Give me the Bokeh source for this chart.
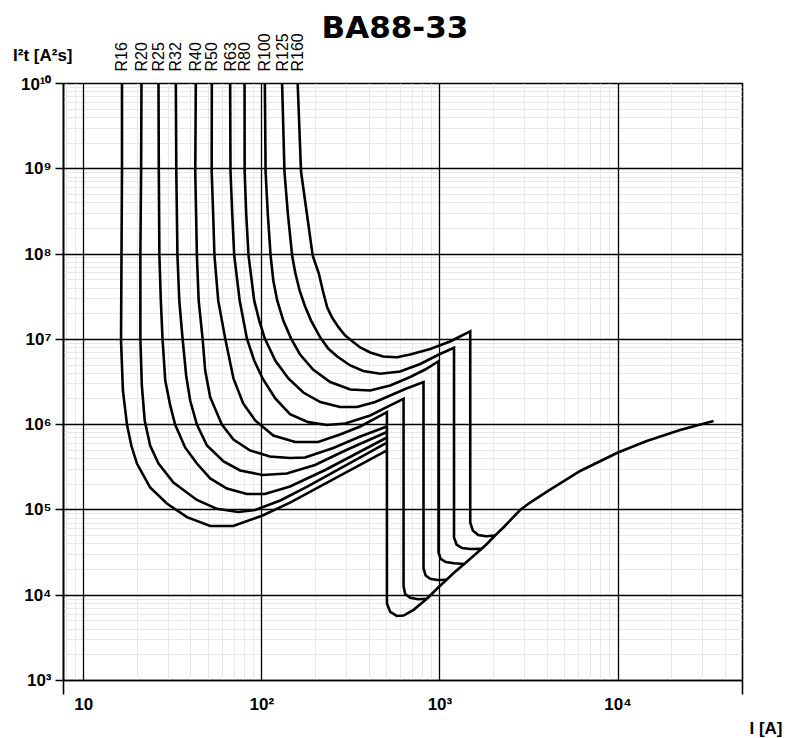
from bokeh.plotting import figure
from bokeh.layouts import column
from bokeh.models import (Range1d, FixedTicker, LogAxis, Label, Grid, Title, CustomJSTickFormatter)
from bokeh.embed import file_html
from bokeh.resources import INLINE
from bokeh.core.properties import value

# ---- data: current I [A] and let-through I2t [A2s] ----
r16_I = [16.4, 16.4, 16.3, 16.2, 16.6, 17.5, 18.5, 19.9, 23.6, 29.3, 38, 51.3, 69.1, 101, 144, 504]
r16_V = [1e10, 9.29e8, 9.62e7, 9.7e6, 2.51e6, 1e6, 5.69e5, 3.5e5, 1.83e5, 1.19e5, 8.22e4, 6.48e4, 6.48e4, 8.6e4, 1.22e5, 4.98e5]

r20_I = [21.1, 21, 20.8, 20.8, 21.2, 22, 23.6, 26.3, 31.9, 43.2, 56, 73.7, 91.8, 127, 180, 504]
r20_V = [1e10, 9.29e8, 9.62e7, 1.02e7, 2.88e6, 1.12e6, 5.69e5, 3.5e5, 2.1e5, 1.31e5, 1.03e5, 9.46e4, 9.98e4, 1.29e5, 1.88e5, 6.17e5]

r25_I = [26.3, 26.4, 26.6, 27.1, 27.7, 28.7, 30.6, 32.6, 37.1, 43.2, 51.3, 63.7, 82.5, 104, 144, 227, 504]
r25_V = [1e10, 9.29e8, 9.62e7, 2.86e7, 1.02e7, 3.29e6, 1.68e6, 1e6, 5.4e5, 3.5e5, 2.34e5, 1.78e5, 1.54e5, 1.54e5, 1.88e5, 2.94e5, 7.07e5]

r32_I = [32.9, 33.1, 33.6, 34.4, 35.9, 37.6, 39.6, 43.2, 49.2, 61, 75.6, 101, 138, 199, 294, 504]
r32_V = [1e10, 9.29e8, 9.62e7, 2.86e7, 1.02e7, 3.77e6, 1.92e6, 1e6, 5.69e5, 3.7e5, 2.9e5, 2.57e5, 2.67e5, 3.36e5, 4.98e5, 8.2e5]

r40_I = [42.6, 42.3, 43.2, 44.2, 46.5, 48.1, 51.3, 59.7, 69.3, 86.1, 111, 144, 175, 252, 357, 504]
r40_V = [1e10, 9.29e8, 9.62e7, 2.86e7, 1.02e7, 4.31e6, 2.1e6, 1e6, 6.69e5, 4.98e5, 4.23e5, 4.06e5, 4.12e5, 5.32e5, 7.26e5, 9.51e5]

r50_I = [52.4, 52.3, 53.3, 54.2, 56.9, 62.3, 69.3, 78.6, 91.8, 116, 154, 207, 275, 357, 504, 504, 526, 573, 625, 711, 845]
r50_V = [1e10, 9.29e8, 2.99e8, 9.62e7, 2.86e7, 1.02e7, 3.48e6, 1.77e6, 1.12e6, 7.46e5, 6.26e5, 6.26e5, 7.66e5, 9.51e5, 1.4e6, 8e3, 6.36e3, 5.71e3, 5.78e3, 6.74e3, 9.08e3]

r63_I = [66.4, 66.7, 68.2, 70, 75.1, 82.5, 90.6, 101, 119, 144, 182, 232, 294, 406, 526, 625, 625, 638, 681, 755, 845]
r63_V = [1e10, 9.29e8, 2.99e8, 9.62e7, 2.86e7, 1.02e7, 5.65e6, 3.48e6, 2.03e6, 1.33e6, 1.07e6, 9.9e5, 1.03e6, 1.28e6, 1.68e6, 2.01e6, 1.27e4, 1.03e4, 9.33e3, 8.98e3, 9.08e3]

r80_I = [80, 80.1, 81.7, 84.2, 90.6, 96.7, 104, 119, 141, 171, 213, 275, 343, 433, 526, 638, 809, 809, 832, 882, 966, 1090]
r80_V = [1e10, 9.29e8, 2.99e8, 9.62e7, 2.86e7, 1.66e7, 1.02e7, 5.65e6, 3.48e6, 2.38e6, 1.84e6, 1.61e6, 1.61e6, 1.84e6, 2.2e6, 2.62e6, 3.15e6, 2.06e4, 1.7e4, 1.56e4, 1.51e4, 1.52e4]

r100_I = [104, 105, 108, 112, 116, 122, 132, 146, 164, 194, 242, 314, 406, 526, 681, 827, 982, 982, 1010, 1080, 1200, 1370]
r100_V = [1e10, 9.29e8, 2.99e8, 9.62e7, 4.9e7, 2.86e7, 1.66e7, 1.02e7, 6.64e6, 4.43e6, 3.16e6, 2.58e6, 2.51e6, 2.88e6, 3.62e6, 4.43e6, 5.54e6, 3.17e4, 2.66e4, 2.45e4, 2.37e4, 2.32e4]

r125_I = [130, 134, 140, 148, 154, 163, 175, 189, 213, 236, 265, 314, 371, 462, 598, 775, 1000, 1200, 1200, 1240, 1330, 1480, 1710]
r125_V = [1e10, 9.29e8, 2.99e8, 9.62e7, 6.08e7, 3.74e7, 2.43e7, 1.66e7, 1.05e7, 7.81e6, 6.3e6, 4.94e6, 4.26e6, 3.95e6, 4.2e6, 5.14e6, 6.73e6, 7.96e6, 4.75e4, 3.93e4, 3.58e4, 3.48e4, 3.49e4]

r160_I = [159, 166, 179, 193, 209, 220, 233, 248, 270, 294, 318, 357, 406, 480, 573, 681, 882, 1140, 1480, 1480, 1530, 1640, 1820, 2040]
r160_V = [1e10, 9.29e8, 2.99e8, 9.62e7, 5.92e7, 3.74e7, 2.36e7, 1.8e7, 1.38e7, 1.11e7, 9.7e6, 8.03e6, 7.01e6, 6.3e6, 6.18e6, 6.64e6, 7.71e6, 9.44e6, 1.24e7, 7.12e4, 5.74e4, 5.08e4, 4.92e4, 5.01e4]

# common let-through envelope
env_I = [845, 982, 1090, 1190, 1370, 1480, 1710, 1840, 2040, 2280, 2820, 3210, 3990, 6130, 9990, 14500, 22300, 34400]
env_V = [9.08e3, 1.24e4, 1.52e4, 1.81e4, 2.32e4, 2.67e4, 3.49e4, 4.01e4, 5.01e4, 6.27e4, 9.98e4, 1.22e5, 1.64e5, 2.86e5, 4.71e5, 6.43e5, 8.65e5, 1.1e6]

curve_names = ["R16", "R20", "R25", "R32", "R40", "R50", "R63", "R80", "R100", "R125", "R160"]
curves_I = [r16_I, r20_I, r25_I, r32_I, r40_I, r50_I, r63_I, r80_I, r100_I, r125_I, r160_I]
curves_V = [r16_V, r20_V, r25_V, r32_V, r40_V, r50_V, r63_V, r80_V, r100_V, r125_V, r160_V]

x_decades = [10, 100, 1000, 10000]
y_decades = [1e3, 1e4, 1e5, 1e6, 1e7, 1e8, 1e9, 1e10]
X0, X1 = 7.7, 50000
FONT = "Liberation Sans"

# ---- layout geometry (pixels) ----
W = 786
HEAD_H = 74
MAIN_H = 738 - HEAD_H
B_LEFT, B_RIGHT, B_TOP, B_BOTTOM = 63, 44, 9, 58

# ---- main plot ----
p = figure(width=W, height=MAIN_H, x_axis_type="log", y_axis_type="log",
           x_range=Range1d(X0, X1), y_range=Range1d(1e3, 1e10), title=None,
           output_backend="svg", toolbar_location=None,
           min_border_left=B_LEFT, min_border_right=B_RIGHT,
           min_border_top=B_TOP, min_border_bottom=B_BOTTOM)
p.outline_line_color = "black"
p.outline_line_width = 1.6
p.background_fill_color = "white"
p.border_fill_color = "white"

xminor = [m * 10 ** k for k in range(0, 5) for m in range(2, 10) if X0 < m * 10 ** k < X1]
yminor = [m * 10 ** k for k in range(3, 10) for m in range(2, 10)]
p.xgrid.ticker = FixedTicker(ticks=[], minor_ticks=xminor)
p.ygrid.ticker = FixedTicker(ticks=[], minor_ticks=yminor)
for g in (p.xgrid, p.ygrid):
    g.grid_line_color = None
    g.minor_grid_line_color = "#e8e8e8"
    g.minor_grid_line_width = 1
for dim, ticks in ((0, x_decades), (1, y_decades)):
    p.add_layout(Grid(dimension=dim, ticker=FixedTicker(ticks=ticks),
                      grid_line_color="black", grid_line_width=1.3))

supfmt = CustomJSTickFormatter(code="""
const e = Math.round(Math.log10(tick));
const s = {"0":"\u2070","1":"\u00b9","2":"\u00b2","3":"\u00b3","4":"\u2074","5":"\u2075","6":"\u2076","7":"\u2077","8":"\u2078","9":"\u2079"};
if (e == 1) return "10";
return "10" + String(e).split("").map(c => s[c]).join("");
""")

yax = p.yaxis[0]
yax.ticker = FixedTicker(ticks=y_decades)
yax.formatter = supfmt
yax.major_tick_out = 8
yax.major_tick_in = 0
yax.minor_tick_out = 0
yax.minor_tick_in = 0
yax.axis_line_width = 1.6
yax.major_tick_line_width = 1.6
yax.major_label_text_font = FONT
yax.major_label_text_font_style = "bold"
yax.major_label_text_font_size = "17px"
yax.major_label_text_color = "black"
yax.major_label_standoff = 4

# axis next to the frame: only the two edge ticks
xa = p.xaxis[0]
xa.ticker = FixedTicker(ticks=[7.71, 49950])
xa.formatter = CustomJSTickFormatter(code="return ''")
xa.major_tick_out = 14
xa.major_tick_in = 0
xa.minor_tick_out = 0
xa.minor_tick_in = 0
xa.axis_line_width = 1.6
xa.major_tick_line_width = 1.6
xa.major_label_text_font_size = "1px"
xa.major_label_standoff = 0

# labelled decade axis
xb = LogAxis(ticker=FixedTicker(ticks=x_decades), formatter=supfmt)
xb.major_tick_out = 0
xb.major_tick_in = 0
xb.minor_tick_out = 0
xb.minor_tick_in = 0
xb.axis_line_color = None
xb.major_label_text_font = FONT
xb.major_label_text_font_style = "bold"
xb.major_label_text_font_size = "17px"
xb.major_label_text_color = "black"
xb.major_label_standoff = 0
p.add_layout(xb, "below")

p.add_layout(Title(text="I [A]", align="right", offset=-40, standoff=0, text_color="black",
                   text_font=FONT, text_font_style="bold", text_font_size="17px"), "below")

for xs, ys in zip(curves_I, curves_V):
    p.line(xs, ys, line_color="black", line_width=2.6, line_join="miter")
p.line(env_I, env_V, line_color="black", line_width=2.6, line_join="miter")

# ---- header strip (same frame columns as the main plot): title, y title, curve names ----
h = figure(width=W, height=HEAD_H, x_axis_type="log", title=None,
           x_range=Range1d(X0, X1), y_range=Range1d(0, HEAD_H),
           output_backend="svg", toolbar_location=None,
           x_axis_location=None, y_axis_location="left",
           min_border_left=B_LEFT, min_border_right=B_RIGHT, min_border_top=0, min_border_bottom=0)
h.grid.visible = False
h.outline_line_color = None
h.background_fill_color = "white"
h.border_fill_color = "white"

hy = h.yaxis[0]
hy.ticker = FixedTicker(ticks=[19])
hy.formatter = CustomJSTickFormatter(code="return 'I\u00b2t [A\u00b2s]'")
hy.major_tick_out = 0
hy.major_tick_in = 0
hy.minor_tick_out = 0
hy.minor_tick_in = 0
hy.axis_line_color = None
hy.major_label_standoff = -9
hy.major_label_text_font = FONT
hy.major_label_text_font_style = "bold"
hy.major_label_text_font_size = "17px"
hy.major_label_text_color = "black"

h.text(x=[c[0] for c in curves_I], y=[3] * len(curves_I), text=curve_names,
       angle=90, angle_units="deg", text_align="left", text_baseline="middle",
       text_font=value(FONT), text_font_size=value("16px"), text_color="black")
h.add_layout(Label(x=559, y=48, text="BA88-33", text_align="center", text_baseline="middle",
                   text_color="black", text_font="DejaVu Sans", text_font_style="bold",
                   text_font_size="31px"))

layout = column(h, p, spacing=0)
open("out.html", "w").write(file_html(layout, INLINE))
